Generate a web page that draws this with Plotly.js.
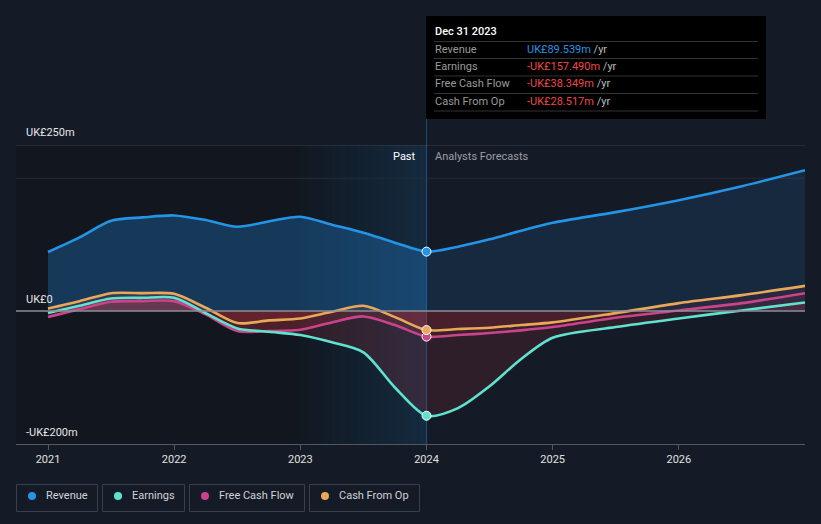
<!DOCTYPE html>
<html>
<head>
<meta charset="utf-8">
<script src="https://cdn.plot.ly/plotly-3.0.1.min.js"></script>
<style>
html,body{margin:0;padding:0;background:#151b26;}
#chart{width:821px;height:524px;}
</style>
</head>
<body>
<div id="chart"></div>
<script>
// ---- data (UK£ millions) ----
const histYears = [2021.0, 2021.25, 2021.5, 2021.75, 2022.0, 2022.25, 2022.5, 2022.75, 2023.0, 2023.25, 2023.5, 2023.75, 2024.0];
const histRevenue = [89, 111, 136, 141, 144, 137, 127, 135, 142, 130, 118, 103, 89.539];
const histEarnings = [-3, 8, 19, 20, 20, -3, -26, -31, -36, -47, -62, -115, -157.49];
const histFCF = [-9, 3, 14, 15, 15, -5, -30, -30, -28, -17, -8, -21, -38.349];
const histCFO = [4, 15, 27, 27, 26, 5, -18, -14, -11, -1, 8, -9, -28.517];

const fcYears = [2024.0, 2024.25, 2024.5, 2024.75, 2025.0, 2025.5, 2026.0, 2026.5, 2027.0];
const fcRevenue = [89.539, 97, 108, 121, 133, 149, 167, 188, 212];
const fcEarnings = [-157.49, -146, -113, -72, -40, -24, -11, 1, 13];
const fcFCF = [-38.349, -36, -33, -29, -24, -10, 1, 12, 27];
const fcCFO = [-28.517, -27, -25, -21, -17, -3, 12, 24, 38];

const yearTicks = [2021, 2022, 2023, 2024, 2025, 2026];
const yearLabels = ["2021", "2022", "2023", "2024", "2025", "2026"];
const seriesNames = ["Revenue", "Earnings", "Free Cash Flow", "Cash From Op"];
const tooltipDate = "Dec 31 2023";
const tooltipValues = ["UK£89.539m", "-UK£157.490m", "-UK£38.349m", "-UK£28.517m"];

// ---- styling ----
const colors = ["#2394e6", "#5fe3cf", "#c9448b", "#e8a85a"];
const BG = "#151b26";
const PL = 16, PR = 805, PT = 145, PB = 444;
const px = v => (v - PL) / (PR - PL);
const py = v => (PB - v) / (PB - PT);

const allYears = histYears.concat(fcYears.slice(1));
const hist = [histRevenue, histEarnings, histFCF, histCFO];
const fc = [fcRevenue, fcEarnings, fcFCF, fcCFO];

const traces = [];
const histFillColors = ["rgba(35,140,230,0.30)", "rgba(215,55,70,0.16)", "rgba(215,55,70,0.16)", "rgba(215,55,70,0.16)"];
const fcFillColors = ["rgba(35,140,230,0.13)", "rgba(215,55,70,0.13)", "rgba(215,55,70,0.08)", "rgba(215,55,70,0.08)"];
for (let i = 0; i < 4; i++) {
  traces.push({x: histYears, y: hist[i], type: "scatter", mode: "lines", line: {width: 0, shape: "spline", smoothing: 0.8},
    fill: "tozeroy", fillcolor: histFillColors[i], hoverinfo: "skip", showlegend: false});
  traces.push({x: fcYears, y: fc[i], type: "scatter", mode: "lines", line: {width: 0, shape: "spline", smoothing: 0.8},
    fill: "tozeroy", fillcolor: fcFillColors[i], hoverinfo: "skip", showlegend: false});
}
for (let i = 3; i >= 0; i--) {
  traces.push({x: allYears, y: hist[i].concat(fc[i].slice(1)), type: "scatter", mode: "lines",
    line: {color: colors[i], width: 2.6, shape: "spline", smoothing: 0.8}, name: seriesNames[i], showlegend: false, hoverinfo: "skip"});
}
for (let i = 0; i < 4; i++) {
  traces.push({x: [histYears[histYears.length - 1]], y: [hist[i][hist[i].length - 1]], type: "scatter", mode: "markers",
    marker: {color: colors[i], size: 9, line: {color: "#ffffff", width: 1}}, showlegend: false, hoverinfo: "skip"});
}

const shapes = [
  {type: "rect", xref: "paper", yref: "paper", x0: 0, x1: px(300), y0: 0, y1: 1, fillcolor: "#12161e", line: {width: 0}, layer: "below"}
];
// highlight 2023-2024 as a left-to-right gradient made of strips
const nStrips = 16;
const c0 = [17, 25, 35], c1 = [20, 42, 62];
for (let k = 0; k < nStrips; k++) {
  const t = k / (nStrips - 1);
  const c = c0.map((v, j) => Math.round(v + (c1[j] - v) * t));
  shapes.push({type: "rect", xref: "x", yref: "paper", x0: 2023 + k / nStrips, x1: 2023 + (k + 1) / nStrips + 0.002, y0: 0, y1: 1,
    fillcolor: "rgb(" + c.join(",") + ")", line: {width: 0}, layer: "below"});
}
shapes.push(
  {type: "line", xref: "paper", yref: "y", x0: 0, x1: 1, y0: 250, y1: 250, line: {color: "#3a404b", width: 1}, layer: "below"},
  {type: "line", xref: "paper", yref: "y", x0: 0, x1: 1, y0: 200, y1: 200, line: {color: "#252b36", width: 1}, layer: "below"},
  {type: "line", xref: "paper", yref: "y", x0: 0, x1: 1, y0: 0, y1: 0, line: {color: "#8c8f96", width: 1.5}, layer: "above"},
  {type: "line", xref: "x", yref: "paper", x0: 2024, x1: 2024, y0: 0, y1: py(119), line: {color: "rgba(50,130,200,0.45)", width: 1}, layer: "below"},
  {type: "rect", xref: "paper", yref: "paper", x0: px(426), x1: px(766), y0: py(16), y1: py(119), fillcolor: "#000000", line: {width: 0}}
);
[41.5, 58.5, 76, 93.5, 111].forEach(yy => shapes.push({type: "line", xref: "paper", yref: "paper", x0: px(434), x1: px(758), y0: py(yy), y1: py(yy), line: {color: "#333333", width: 1}}));

const annotations = [
  {text: "UK£250m", x: px(24), y: py(132), xref: "paper", yref: "paper", xanchor: "left", yanchor: "middle", showarrow: false, font: {color: "#e6e6e6", size: 11}},
  {text: "UK£0", x: px(24), y: py(299), xref: "paper", yref: "paper", xanchor: "left", yanchor: "middle", showarrow: false, font: {color: "#e6e6e6", size: 11}},
  {text: "-UK£200m", x: px(24), y: py(432), xref: "paper", yref: "paper", xanchor: "left", yanchor: "middle", showarrow: false, font: {color: "#e6e6e6", size: 11}},
  {text: "Past", x: px(418), y: py(156), xref: "paper", yref: "paper", xanchor: "right", yanchor: "middle", showarrow: false, font: {color: "#ffffff", size: 11}},
  {text: "Analysts Forecasts", x: px(433), y: py(156), xref: "paper", yref: "paper", xanchor: "left", yanchor: "middle", showarrow: false, font: {color: "#9a9ea6", size: 11}},
  {text: tooltipDate, x: px(433), y: py(31), xref: "paper", yref: "paper", xanchor: "left", yanchor: "middle", showarrow: false, font: {color: "#ffffff", size: 11, weight: 500}}
];
const rowY = [49.5, 66.5, 84, 101.5];
const valColors = ["#2394e6", "#f04646", "#f04646", "#f04646"];
for (let i = 0; i < 4; i++) {
  annotations.push({text: seriesNames[i], x: px(433), y: py(rowY[i]), xref: "paper", yref: "paper", xanchor: "left", yanchor: "middle", showarrow: false, font: {color: "#9a9a9a", size: 11}});
  annotations.push({text: "<span style='color:" + valColors[i] + "'>" + tooltipValues[i] + "</span> /yr", x: px(525), y: py(rowY[i]), xref: "paper", yref: "paper", xanchor: "left", yanchor: "middle", showarrow: false, font: {color: "#bbbbbb", size: 11}});
}
const legBoxes = [[16.5, 97.5], [102.5, 184.5], [189.5, 304.5], [309.5, 419.5]];
for (let i = 0; i < 4; i++) {
  shapes.push({type: "rect", xref: "paper", yref: "paper", x0: px(legBoxes[i][0]), x1: px(legBoxes[i][1]), y0: py(484.5), y1: py(511.5), fillcolor: "rgba(0,0,0,0)", line: {color: "#3a3f4a", width: 1}});
  const cx = legBoxes[i][0] + 15.5;
  shapes.push({type: "circle", xref: "paper", yref: "paper", x0: px(cx - 4), x1: px(cx + 4), y0: py(500), y1: py(492), fillcolor: colors[i], line: {width: 0}});
  annotations.push({text: seriesNames[i], x: px(cx + 12), y: py(496), xref: "paper", yref: "paper", xanchor: "left", yanchor: "middle", showarrow: false, font: {color: "#d0d2d6", size: 11}});
}

const layout = {
  width: 821, height: 524,
  margin: {l: PL, r: 821 - PR, t: PT, b: 524 - PB, pad: 0},
  paper_bgcolor: BG, plot_bgcolor: BG,
  font: {family: "Roboto, 'Open Sans', sans-serif", size: 11, color: "#dddddd"},
  showlegend: false,
  xaxis: {range: [2021 - 32 / 126.17, 2027], tickvals: yearTicks, ticktext: yearLabels, showgrid: false, zeroline: false,
    showline: true, linecolor: "#55595f", linewidth: 1, ticks: "outside", ticklen: 5, tickcolor: "#55595f",
    tickfont: {color: "#e0e0e0", size: 11}, fixedrange: true},
  yaxis: {range: [-200, 250], showgrid: false, zeroline: false, showticklabels: false, showline: false, fixedrange: true},
  shapes: shapes, annotations: annotations
};
Plotly.newPlot("chart", traces, layout, {displayModeBar: false, staticPlot: true});
</script>
</body>
</html>
